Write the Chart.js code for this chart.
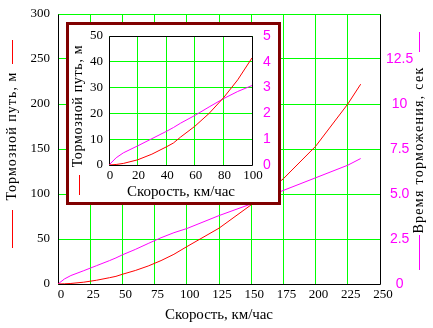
<!DOCTYPE html>
<html>
<head>
<meta charset="utf-8">
<script src="https://cdn.jsdelivr.net/npm/chart.js@4"></script>
<style>
  html, body { margin: 0; padding: 0; background: #fff; }
  #wrap { position: relative; width: 433px; height: 328px; overflow: hidden; }
  #main { position: absolute; left: 0; top: 0; }
  #inset-box {
    position: absolute; left: 66px; top: 22px;
    width: 209px; height: 177px;
    border: 3px solid #800000; background: #fff;
  }
  #inset { display: block; }
</style>
</head>
<body>
<div id="wrap">
  <canvas id="main" width="433" height="328"></canvas>
  <div id="inset-box"><canvas id="inset" width="209" height="177"></canvas></div>
</div>
<script>
// speed, km/h
const speed = [0, 5, 10, 20, 30, 40, 45, 50, 60, 70, 80, 90, 100, 125, 150, 175, 200, 225, 235];
// braking distance, m
const brakingDistance = [0, 0.2, 0.6, 2, 4.2, 7, 8.5, 10.8, 15, 20, 26, 33, 41.5, 62, 88, 117, 153, 200, 222];
// braking time, s
const brakingTime = [0, 0.28, 0.47, 0.74, 1.02, 1.3, 1.45, 1.62, 1.92, 2.25, 2.57, 2.85, 3.08, 3.8, 4.45, 5.2, 5.9, 6.6, 6.97];

const timeTickLabels = ['0', '2.5', '5.0', '7.5', '10', '12.5', ''];
const insetTimeTickLabels = ['0', '1', '2', '3', '4', '5'];

const GRID = '#00ff00';
const RED = '#ff0000';
const MAGENTA = '#ff00ff';
const SERIF = { family: '"Liberation Serif", "DejaVu Serif", serif', size: 13 };
const SANS = { family: '"Liberation Sans", Arial, sans-serif', size: 14 };

const distancePoints = speed.map((v, i) => ({ x: v, y: brakingDistance[i] }));
const timePoints = speed.map((v, i) => ({ x: v, y: brakingTime[i] }));

function drawTitle(ctx, t) {
  ctx.save();
  ctx.font = t.font;
  ctx.fillStyle = t.color || '#000';
  ctx.translate(t.x, t.y);
  if (t.rotate) ctx.rotate(t.rotate);
  ctx.letterSpacing = '0px';
  if (t.width) {
    const w = ctx.measureText(t.text).width;
    ctx.letterSpacing = ((t.width - w) / (t.text.length - 1)).toFixed(2) + 'px';
  }
  ctx.textAlign = 'center';
  ctx.textBaseline = 'middle';
  ctx.fillText(t.text, 0, 0);
  ctx.restore();
}

// fixed axis sizes; drop the label overhang padding so the plot box stays put
const fixWidth = (w) => (s) => { s.width = w; s.paddingTop = 0; s.paddingBottom = 0; };
const fixHeight = (h) => (s) => { s.height = h; s.paddingLeft = 0; s.paddingRight = 0; };

// black frame under the curves, titles and legend strokes on top
const decor = {
  id: 'decor',
  beforeDatasetsDraw(chart, args, opts) {
    const { ctx, chartArea: a } = chart;
    const l = Math.round(a.left) + 0.5, r = Math.round(a.right) + 0.5;
    const t = Math.round(a.top) + 0.5, b = Math.round(a.bottom) + 0.5;
    ctx.save();
    ctx.strokeStyle = '#000';
    ctx.lineWidth = 1;
    ctx.beginPath();
    if (opts.sides.includes('left')) { ctx.moveTo(l, t); ctx.lineTo(l, b); }
    if (opts.sides.includes('bottom')) { ctx.moveTo(l, b); ctx.lineTo(r, b); }
    if (opts.sides.includes('right')) { ctx.moveTo(r, t); ctx.lineTo(r, b); }
    if (opts.sides.includes('top')) { ctx.moveTo(l, t); ctx.lineTo(r, t); }
    ctx.stroke();
    ctx.restore();
  },
  afterDraw(chart, args, opts) {
    const ctx = chart.ctx;
    (opts.titles || []).forEach((t) => drawTitle(ctx, t));
    (opts.strokes || []).forEach((s) => {
      ctx.save();
      ctx.strokeStyle = s.color;
      ctx.lineWidth = 1;
      ctx.beginPath();
      ctx.moveTo(s.x + 0.5, s.y1);
      ctx.lineTo(s.x + 0.5, s.y2);
      ctx.stroke();
      ctx.restore();
    });
  },
};

function lineSet(points, color, axis) {
  return {
    data: points,
    yAxisID: axis,
    showLine: true,
    borderColor: color,
    borderWidth: 1,
    pointRadius: 0,
    tension: 0,
    fill: false,
  };
}

const baseOptions = {
  responsive: false,
  devicePixelRatio: 1,
  animation: false,
  events: [],
  plugins: { legend: { display: false }, tooltip: { enabled: false } },
};

new Chart(document.getElementById('main'), {
  type: 'scatter',
  data: {
    datasets: [
      lineSet(distancePoints, RED, 'y'),
      lineSet(timePoints, MAGENTA, 'y1'),
    ],
  },
  options: {
    ...baseOptions,
    layout: { padding: { top: 14, right: 0, left: 0, bottom: 0 } },
    scales: {
      x: {
        type: 'linear', min: 0, max: 250,
        afterFit: fixHeight(44),
        grid: { color: GRID, drawTicks: false },
        border: { display: false },
        ticks: { stepSize: 25, padding: 3, labelOffset: 3, autoSkip: false, maxRotation: 0, color: '#000', font: SERIF },
      },
      y: {
        position: 'left', min: 0, max: 300,
        afterFit: fixWidth(58),
        grid: { color: GRID, drawTicks: false },
        border: { display: false },
        ticks: { stepSize: 50, padding: 8, color: '#000', font: SERIF },
      },
      y1: {
        position: 'right', min: 0, max: 15,
        afterFit: fixWidth(53),
        grid: { display: false, drawTicks: false },
        border: { display: false },
        ticks: {
          stepSize: 2.5, padding: 6, crossAlign: 'center', color: MAGENTA, font: SANS,
          callback: (v, i) => timeTickLabels[i],
        },
      },
    },
    plugins: {
      ...baseOptions.plugins,
      decor: {
        sides: ['left', 'bottom', 'right'],
        titles: [
          { text: 'Тормозной путь, м', x: 12, y: 136, rotate: -Math.PI / 2, width: 128, font: '14px "Liberation Serif"' },
          { text: 'Время торможения, сек', x: 419, y: 150, rotate: -Math.PI / 2, width: 166, font: '14px "Liberation Serif"' },
          { text: 'Скорость, км/час', x: 219, y: 315, width: 108, font: '15px "Liberation Serif"' },
        ],
        strokes: [
          { x: 12, y1: 40, y2: 64, color: RED },
          { x: 12, y1: 210, y2: 248, color: RED },
          { x: 419, y1: 32, y2: 52, color: MAGENTA },
          { x: 419, y1: 235, y2: 270, color: MAGENTA },
        ],
      },
    },
  },
  plugins: [decor],
});

new Chart(document.getElementById('inset'), {
  type: 'scatter',
  data: {
    datasets: [
      lineSet(distancePoints, RED, 'y'),
      lineSet(timePoints, MAGENTA, 'y1'),
    ],
  },
  options: {
    ...baseOptions,
    layout: { padding: { top: 11, right: 0, left: 0, bottom: 0 } },
    scales: {
      x: {
        type: 'linear', min: 0, max: 100,
        afterFit: fixHeight(37),
        grid: { color: GRID, drawTicks: false },
        border: { display: false },
        ticks: { stepSize: 20, padding: 3, labelOffset: 1, autoSkip: false, maxRotation: 0, color: '#000', font: SERIF },
      },
      y: {
        position: 'left', min: 0, max: 50,
        afterFit: fixWidth(40),
        grid: { color: GRID, drawTicks: false },
        border: { display: false },
        ticks: { stepSize: 10, padding: 6, color: '#000', font: SERIF },
      },
      y1: {
        position: 'right', min: 0, max: 5,
        afterFit: fixWidth(26),
        grid: { display: false, drawTicks: false },
        border: { display: false },
        ticks: {
          stepSize: 1, padding: 11, color: MAGENTA, font: SANS,
          callback: (v, i) => insetTimeTickLabels[i],
        },
      },
    },
    plugins: {
      ...baseOptions.plugins,
      decor: {
        sides: ['left', 'bottom', 'right', 'top'],
        titles: [
          { text: 'Тормозной путь, м', x: 9, y: 81, rotate: -Math.PI / 2, width: 122, font: '14px "Liberation Serif"' },
          { text: 'Скорость, км/час', x: 112, y: 167, width: 108, font: '15px "Liberation Serif"' },
        ],
        strokes: [
          { x: 10, y1: 150, y2: 170, color: RED },
        ],
      },
    },
  },
  plugins: [decor],
});
</script>
</body>
</html>
